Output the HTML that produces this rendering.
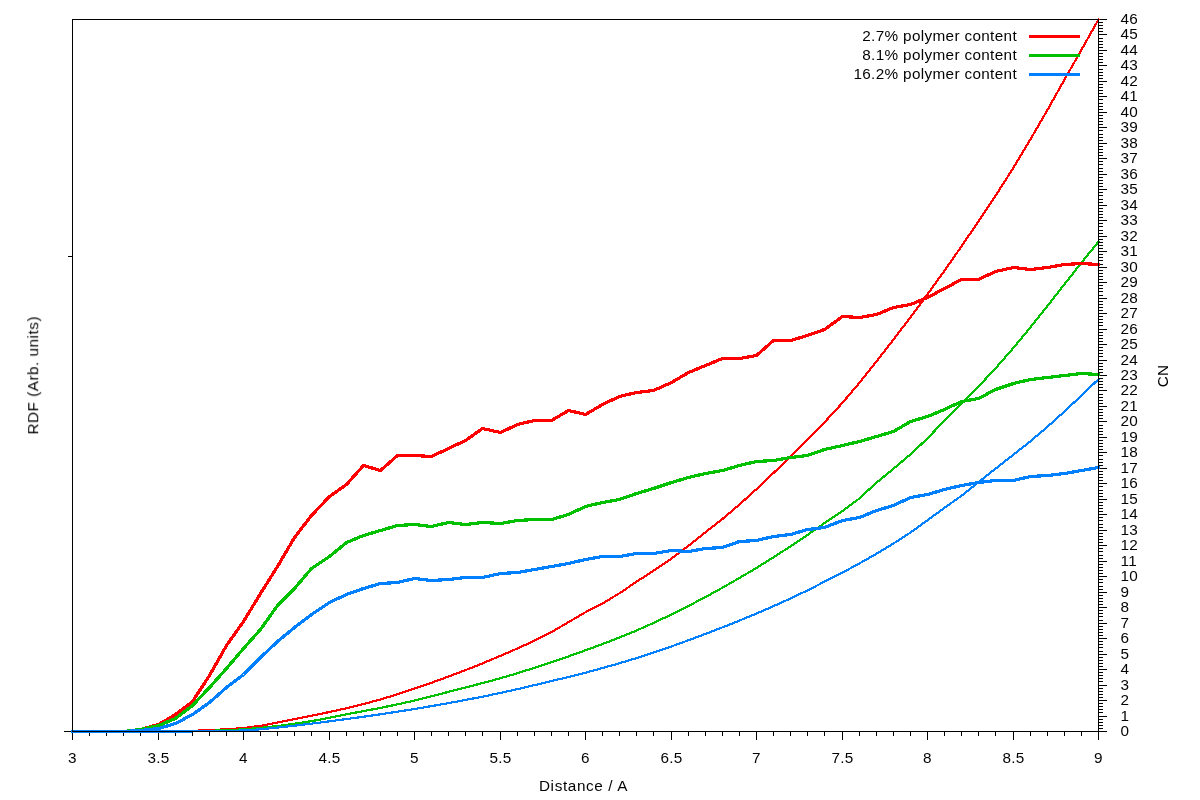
<!DOCTYPE html>
<html><head><meta charset="utf-8"><title>RDF / CN</title>
<style>
html,body{margin:0;padding:0;background:#fff;}
body{width:1200px;height:800px;overflow:hidden;font-family:"Liberation Sans",sans-serif;}
svg{display:block;}
text{font-family:"Liberation Sans",sans-serif;font-size:15.3px;fill:#000;letter-spacing:0.3px;}
</style></head><body>
<svg width="1200" height="800" viewBox="0 0 1200 800">
<rect width="1200" height="800" fill="#fff"/>

<g fill="#000" shape-rendering="crispEdges">
<rect x="72" y="731" width="1" height="9"/>
<rect x="89" y="731" width="1" height="5"/>
<rect x="106" y="731" width="1" height="5"/>
<rect x="123" y="731" width="1" height="5"/>
<rect x="140" y="731" width="1" height="5"/>
<rect x="158" y="731" width="1" height="9"/>
<rect x="175" y="731" width="1" height="5"/>
<rect x="192" y="731" width="1" height="5"/>
<rect x="209" y="731" width="1" height="5"/>
<rect x="226" y="731" width="1" height="5"/>
<rect x="243" y="731" width="1" height="9"/>
<rect x="260" y="731" width="1" height="5"/>
<rect x="277" y="731" width="1" height="5"/>
<rect x="294" y="731" width="1" height="5"/>
<rect x="311" y="731" width="1" height="5"/>
<rect x="329" y="731" width="1" height="9"/>
<rect x="346" y="731" width="1" height="5"/>
<rect x="363" y="731" width="1" height="5"/>
<rect x="380" y="731" width="1" height="5"/>
<rect x="397" y="731" width="1" height="5"/>
<rect x="414" y="731" width="1" height="9"/>
<rect x="431" y="731" width="1" height="5"/>
<rect x="448" y="731" width="1" height="5"/>
<rect x="465" y="731" width="1" height="5"/>
<rect x="482" y="731" width="1" height="5"/>
<rect x="500" y="731" width="1" height="9"/>
<rect x="517" y="731" width="1" height="5"/>
<rect x="534" y="731" width="1" height="5"/>
<rect x="551" y="731" width="1" height="5"/>
<rect x="568" y="731" width="1" height="5"/>
<rect x="585" y="731" width="1" height="9"/>
<rect x="602" y="731" width="1" height="5"/>
<rect x="619" y="731" width="1" height="5"/>
<rect x="636" y="731" width="1" height="5"/>
<rect x="653" y="731" width="1" height="5"/>
<rect x="671" y="731" width="1" height="9"/>
<rect x="688" y="731" width="1" height="5"/>
<rect x="705" y="731" width="1" height="5"/>
<rect x="722" y="731" width="1" height="5"/>
<rect x="739" y="731" width="1" height="5"/>
<rect x="756" y="731" width="1" height="9"/>
<rect x="773" y="731" width="1" height="5"/>
<rect x="790" y="731" width="1" height="5"/>
<rect x="807" y="731" width="1" height="5"/>
<rect x="824" y="731" width="1" height="5"/>
<rect x="842" y="731" width="1" height="9"/>
<rect x="859" y="731" width="1" height="5"/>
<rect x="876" y="731" width="1" height="5"/>
<rect x="893" y="731" width="1" height="5"/>
<rect x="910" y="731" width="1" height="5"/>
<rect x="927" y="731" width="1" height="9"/>
<rect x="944" y="731" width="1" height="5"/>
<rect x="961" y="731" width="1" height="5"/>
<rect x="978" y="731" width="1" height="5"/>
<rect x="995" y="731" width="1" height="5"/>
<rect x="1013" y="731" width="1" height="9"/>
<rect x="1030" y="731" width="1" height="5"/>
<rect x="1047" y="731" width="1" height="5"/>
<rect x="1064" y="731" width="1" height="5"/>
<rect x="1081" y="731" width="1" height="5"/>
<rect x="1098" y="731" width="1" height="9"/>
<rect x="64" y="731" width="9" height="1"/>
<rect x="68" y="256" width="5" height="1"/>
<rect x="1098" y="731" width="9" height="1"/>
<rect x="1098" y="728" width="5" height="1"/>
<rect x="1098" y="725" width="5" height="1"/>
<rect x="1098" y="722" width="5" height="1"/>
<rect x="1098" y="719" width="5" height="1"/>
<rect x="1098" y="716" width="9" height="1"/>
<rect x="1098" y="712" width="5" height="1"/>
<rect x="1098" y="709" width="5" height="1"/>
<rect x="1098" y="706" width="5" height="1"/>
<rect x="1098" y="703" width="5" height="1"/>
<rect x="1098" y="700" width="9" height="1"/>
<rect x="1098" y="697" width="5" height="1"/>
<rect x="1098" y="694" width="5" height="1"/>
<rect x="1098" y="691" width="5" height="1"/>
<rect x="1098" y="688" width="5" height="1"/>
<rect x="1098" y="685" width="9" height="1"/>
<rect x="1098" y="681" width="5" height="1"/>
<rect x="1098" y="678" width="5" height="1"/>
<rect x="1098" y="675" width="5" height="1"/>
<rect x="1098" y="672" width="5" height="1"/>
<rect x="1098" y="669" width="9" height="1"/>
<rect x="1098" y="666" width="5" height="1"/>
<rect x="1098" y="663" width="5" height="1"/>
<rect x="1098" y="660" width="5" height="1"/>
<rect x="1098" y="657" width="5" height="1"/>
<rect x="1098" y="654" width="9" height="1"/>
<rect x="1098" y="651" width="5" height="1"/>
<rect x="1098" y="647" width="5" height="1"/>
<rect x="1098" y="644" width="5" height="1"/>
<rect x="1098" y="641" width="5" height="1"/>
<rect x="1098" y="638" width="9" height="1"/>
<rect x="1098" y="635" width="5" height="1"/>
<rect x="1098" y="632" width="5" height="1"/>
<rect x="1098" y="629" width="5" height="1"/>
<rect x="1098" y="626" width="5" height="1"/>
<rect x="1098" y="623" width="9" height="1"/>
<rect x="1098" y="620" width="5" height="1"/>
<rect x="1098" y="616" width="5" height="1"/>
<rect x="1098" y="613" width="5" height="1"/>
<rect x="1098" y="610" width="5" height="1"/>
<rect x="1098" y="607" width="9" height="1"/>
<rect x="1098" y="604" width="5" height="1"/>
<rect x="1098" y="601" width="5" height="1"/>
<rect x="1098" y="598" width="5" height="1"/>
<rect x="1098" y="595" width="5" height="1"/>
<rect x="1098" y="592" width="9" height="1"/>
<rect x="1098" y="589" width="5" height="1"/>
<rect x="1098" y="586" width="5" height="1"/>
<rect x="1098" y="582" width="5" height="1"/>
<rect x="1098" y="579" width="5" height="1"/>
<rect x="1098" y="576" width="9" height="1"/>
<rect x="1098" y="573" width="5" height="1"/>
<rect x="1098" y="570" width="5" height="1"/>
<rect x="1098" y="567" width="5" height="1"/>
<rect x="1098" y="564" width="5" height="1"/>
<rect x="1098" y="561" width="9" height="1"/>
<rect x="1098" y="558" width="5" height="1"/>
<rect x="1098" y="555" width="5" height="1"/>
<rect x="1098" y="551" width="5" height="1"/>
<rect x="1098" y="548" width="5" height="1"/>
<rect x="1098" y="545" width="9" height="1"/>
<rect x="1098" y="542" width="5" height="1"/>
<rect x="1098" y="539" width="5" height="1"/>
<rect x="1098" y="536" width="5" height="1"/>
<rect x="1098" y="533" width="5" height="1"/>
<rect x="1098" y="530" width="9" height="1"/>
<rect x="1098" y="527" width="5" height="1"/>
<rect x="1098" y="524" width="5" height="1"/>
<rect x="1098" y="520" width="5" height="1"/>
<rect x="1098" y="517" width="5" height="1"/>
<rect x="1098" y="514" width="9" height="1"/>
<rect x="1098" y="511" width="5" height="1"/>
<rect x="1098" y="508" width="5" height="1"/>
<rect x="1098" y="505" width="5" height="1"/>
<rect x="1098" y="502" width="5" height="1"/>
<rect x="1098" y="499" width="9" height="1"/>
<rect x="1098" y="496" width="5" height="1"/>
<rect x="1098" y="493" width="5" height="1"/>
<rect x="1098" y="490" width="5" height="1"/>
<rect x="1098" y="486" width="5" height="1"/>
<rect x="1098" y="483" width="9" height="1"/>
<rect x="1098" y="480" width="5" height="1"/>
<rect x="1098" y="477" width="5" height="1"/>
<rect x="1098" y="474" width="5" height="1"/>
<rect x="1098" y="471" width="5" height="1"/>
<rect x="1098" y="468" width="9" height="1"/>
<rect x="1098" y="465" width="5" height="1"/>
<rect x="1098" y="462" width="5" height="1"/>
<rect x="1098" y="459" width="5" height="1"/>
<rect x="1098" y="455" width="5" height="1"/>
<rect x="1098" y="452" width="9" height="1"/>
<rect x="1098" y="449" width="5" height="1"/>
<rect x="1098" y="446" width="5" height="1"/>
<rect x="1098" y="443" width="5" height="1"/>
<rect x="1098" y="440" width="5" height="1"/>
<rect x="1098" y="437" width="9" height="1"/>
<rect x="1098" y="434" width="5" height="1"/>
<rect x="1098" y="431" width="5" height="1"/>
<rect x="1098" y="428" width="5" height="1"/>
<rect x="1098" y="425" width="5" height="1"/>
<rect x="1098" y="421" width="9" height="1"/>
<rect x="1098" y="418" width="5" height="1"/>
<rect x="1098" y="415" width="5" height="1"/>
<rect x="1098" y="412" width="5" height="1"/>
<rect x="1098" y="409" width="5" height="1"/>
<rect x="1098" y="406" width="9" height="1"/>
<rect x="1098" y="403" width="5" height="1"/>
<rect x="1098" y="400" width="5" height="1"/>
<rect x="1098" y="397" width="5" height="1"/>
<rect x="1098" y="394" width="5" height="1"/>
<rect x="1098" y="390" width="9" height="1"/>
<rect x="1098" y="387" width="5" height="1"/>
<rect x="1098" y="384" width="5" height="1"/>
<rect x="1098" y="381" width="5" height="1"/>
<rect x="1098" y="378" width="5" height="1"/>
<rect x="1098" y="375" width="9" height="1"/>
<rect x="1098" y="372" width="5" height="1"/>
<rect x="1098" y="369" width="5" height="1"/>
<rect x="1098" y="366" width="5" height="1"/>
<rect x="1098" y="363" width="5" height="1"/>
<rect x="1098" y="360" width="9" height="1"/>
<rect x="1098" y="356" width="5" height="1"/>
<rect x="1098" y="353" width="5" height="1"/>
<rect x="1098" y="350" width="5" height="1"/>
<rect x="1098" y="347" width="5" height="1"/>
<rect x="1098" y="344" width="9" height="1"/>
<rect x="1098" y="341" width="5" height="1"/>
<rect x="1098" y="338" width="5" height="1"/>
<rect x="1098" y="335" width="5" height="1"/>
<rect x="1098" y="332" width="5" height="1"/>
<rect x="1098" y="329" width="9" height="1"/>
<rect x="1098" y="325" width="5" height="1"/>
<rect x="1098" y="322" width="5" height="1"/>
<rect x="1098" y="319" width="5" height="1"/>
<rect x="1098" y="316" width="5" height="1"/>
<rect x="1098" y="313" width="9" height="1"/>
<rect x="1098" y="310" width="5" height="1"/>
<rect x="1098" y="307" width="5" height="1"/>
<rect x="1098" y="304" width="5" height="1"/>
<rect x="1098" y="301" width="5" height="1"/>
<rect x="1098" y="298" width="9" height="1"/>
<rect x="1098" y="295" width="5" height="1"/>
<rect x="1098" y="291" width="5" height="1"/>
<rect x="1098" y="288" width="5" height="1"/>
<rect x="1098" y="285" width="5" height="1"/>
<rect x="1098" y="282" width="9" height="1"/>
<rect x="1098" y="279" width="5" height="1"/>
<rect x="1098" y="276" width="5" height="1"/>
<rect x="1098" y="273" width="5" height="1"/>
<rect x="1098" y="270" width="5" height="1"/>
<rect x="1098" y="267" width="9" height="1"/>
<rect x="1098" y="264" width="5" height="1"/>
<rect x="1098" y="260" width="5" height="1"/>
<rect x="1098" y="257" width="5" height="1"/>
<rect x="1098" y="254" width="5" height="1"/>
<rect x="1098" y="251" width="9" height="1"/>
<rect x="1098" y="248" width="5" height="1"/>
<rect x="1098" y="245" width="5" height="1"/>
<rect x="1098" y="242" width="5" height="1"/>
<rect x="1098" y="239" width="5" height="1"/>
<rect x="1098" y="236" width="9" height="1"/>
<rect x="1098" y="233" width="5" height="1"/>
<rect x="1098" y="230" width="5" height="1"/>
<rect x="1098" y="226" width="5" height="1"/>
<rect x="1098" y="223" width="5" height="1"/>
<rect x="1098" y="220" width="9" height="1"/>
<rect x="1098" y="217" width="5" height="1"/>
<rect x="1098" y="214" width="5" height="1"/>
<rect x="1098" y="211" width="5" height="1"/>
<rect x="1098" y="208" width="5" height="1"/>
<rect x="1098" y="205" width="9" height="1"/>
<rect x="1098" y="202" width="5" height="1"/>
<rect x="1098" y="199" width="5" height="1"/>
<rect x="1098" y="195" width="5" height="1"/>
<rect x="1098" y="192" width="5" height="1"/>
<rect x="1098" y="189" width="9" height="1"/>
<rect x="1098" y="186" width="5" height="1"/>
<rect x="1098" y="183" width="5" height="1"/>
<rect x="1098" y="180" width="5" height="1"/>
<rect x="1098" y="177" width="5" height="1"/>
<rect x="1098" y="174" width="9" height="1"/>
<rect x="1098" y="171" width="5" height="1"/>
<rect x="1098" y="168" width="5" height="1"/>
<rect x="1098" y="164" width="5" height="1"/>
<rect x="1098" y="161" width="5" height="1"/>
<rect x="1098" y="158" width="9" height="1"/>
<rect x="1098" y="155" width="5" height="1"/>
<rect x="1098" y="152" width="5" height="1"/>
<rect x="1098" y="149" width="5" height="1"/>
<rect x="1098" y="146" width="5" height="1"/>
<rect x="1098" y="143" width="9" height="1"/>
<rect x="1098" y="140" width="5" height="1"/>
<rect x="1098" y="137" width="5" height="1"/>
<rect x="1098" y="134" width="5" height="1"/>
<rect x="1098" y="130" width="5" height="1"/>
<rect x="1098" y="127" width="9" height="1"/>
<rect x="1098" y="124" width="5" height="1"/>
<rect x="1098" y="121" width="5" height="1"/>
<rect x="1098" y="118" width="5" height="1"/>
<rect x="1098" y="115" width="5" height="1"/>
<rect x="1098" y="112" width="9" height="1"/>
<rect x="1098" y="109" width="5" height="1"/>
<rect x="1098" y="106" width="5" height="1"/>
<rect x="1098" y="103" width="5" height="1"/>
<rect x="1098" y="99" width="5" height="1"/>
<rect x="1098" y="96" width="9" height="1"/>
<rect x="1098" y="93" width="5" height="1"/>
<rect x="1098" y="90" width="5" height="1"/>
<rect x="1098" y="87" width="5" height="1"/>
<rect x="1098" y="84" width="5" height="1"/>
<rect x="1098" y="81" width="9" height="1"/>
<rect x="1098" y="78" width="5" height="1"/>
<rect x="1098" y="75" width="5" height="1"/>
<rect x="1098" y="72" width="5" height="1"/>
<rect x="1098" y="69" width="5" height="1"/>
<rect x="1098" y="65" width="9" height="1"/>
<rect x="1098" y="62" width="5" height="1"/>
<rect x="1098" y="59" width="5" height="1"/>
<rect x="1098" y="56" width="5" height="1"/>
<rect x="1098" y="53" width="5" height="1"/>
<rect x="1098" y="50" width="9" height="1"/>
<rect x="1098" y="47" width="5" height="1"/>
<rect x="1098" y="44" width="5" height="1"/>
<rect x="1098" y="41" width="5" height="1"/>
<rect x="1098" y="38" width="5" height="1"/>
<rect x="1098" y="34" width="9" height="1"/>
<rect x="1098" y="31" width="5" height="1"/>
<rect x="1098" y="28" width="5" height="1"/>
<rect x="1098" y="25" width="5" height="1"/>
<rect x="1098" y="22" width="5" height="1"/>
<rect x="1098" y="19" width="9" height="1"/>
</g>
<g fill="none" stroke-linejoin="bevel" stroke-linecap="butt" shape-rendering="crispEdges">
<polyline stroke="#ff0000" stroke-width="2.2" points="72.5,731.5 89.6,731.5 106.7,731.5 123.8,731.5 140.9,731.5 158.0,731.5 175.1,731.2 192.2,730.8 209.3,730.2 226.4,729.3 243.5,728.1 260.6,725.8 277.7,722.5 294.8,719.0 311.9,715.7 329.0,712.1 346.1,708.3 363.2,704.1 380.3,699.5 397.4,694.3 414.5,688.6 431.6,682.7 448.7,676.5 465.8,670.0 482.9,663.2 500.0,656.0 517.1,648.6 534.2,640.8 551.3,632.2 568.4,622.2 585.5,612.2 602.6,603.4 619.7,593.1 636.8,581.6 653.9,570.4 671.0,558.9 688.1,546.2 705.2,532.4 722.3,519.1 739.4,504.6 756.5,489.1 773.6,472.9 790.7,456.4 807.8,439.5 824.9,421.9 842.0,403.3 859.1,383.2 876.2,361.8 893.3,339.7 910.4,317.4 927.5,294.3 944.6,270.5 961.7,246.0 978.8,220.9 995.9,195.2 1013.0,168.4 1030.1,139.9 1047.2,110.4 1064.3,79.9 1081.4,49.9 1098.5,19.5 1099.0,18.6"/>
<polyline stroke="#00c000" stroke-width="2.2" points="72.5,731.5 89.6,731.5 106.7,731.5 123.8,731.5 140.9,731.5 158.0,731.5 175.1,731.5 192.2,731.2 209.3,730.8 226.4,730.2 243.5,729.3 260.6,727.9 277.7,726.0 294.8,723.7 311.9,721.1 329.0,717.8 346.1,714.3 363.2,711.2 380.3,707.9 397.4,704.4 414.5,700.6 431.6,696.3 448.7,691.8 465.8,687.4 482.9,683.0 500.0,678.4 517.1,673.3 534.2,667.9 551.3,662.2 568.4,656.4 585.5,650.3 602.6,644.0 619.7,637.4 636.8,630.4 653.9,622.8 671.0,614.7 688.1,606.1 705.2,597.2 722.3,587.8 739.4,578.0 756.5,567.9 773.6,557.2 790.7,546.2 807.8,534.7 824.9,522.8 842.0,511.3 859.1,498.7 876.2,482.9 893.3,468.9 910.4,454.4 927.5,438.4 944.6,420.3 961.7,403.7 978.8,386.2 995.9,367.9 1013.0,348.4 1030.1,327.7 1047.2,306.4 1064.3,284.4 1081.4,262.8 1098.5,241.6 1099.0,241.0"/>
<polyline stroke="#0080ff" stroke-width="2.2" points="72.5,731.5 89.6,731.5 106.7,731.5 123.8,731.5 140.9,731.5 158.0,731.5 175.1,731.5 192.2,731.4 209.3,731.2 226.4,730.9 243.5,730.5 260.6,729.3 277.7,727.5 294.8,725.6 311.9,723.6 329.0,721.4 346.1,719.1 363.2,716.8 380.3,714.3 397.4,711.7 414.5,709.0 431.6,706.1 448.7,703.1 465.8,699.9 482.9,696.6 500.0,693.0 517.1,689.2 534.2,685.2 551.3,681.1 568.4,677.0 585.5,672.7 602.6,668.0 619.7,663.2 636.8,658.0 653.9,652.5 671.0,646.6 688.1,640.4 705.2,634.0 722.3,627.4 739.4,620.6 756.5,613.5 773.6,606.1 790.7,598.4 807.8,590.2 824.9,581.5 842.0,572.8 859.1,563.6 876.2,553.9 893.3,543.6 910.4,532.6 927.5,520.2 944.6,507.8 961.7,495.6 978.8,481.9 995.9,468.4 1013.0,455.0 1030.1,441.5 1047.2,427.0 1064.3,411.6 1081.4,395.6 1098.5,379.2 1099.0,378.7"/>
<polyline stroke="#ff0000" stroke-width="3.2" points="71.0,731.5 72.5,731.5 89.5,731.5 106.5,731.5 123.5,731.5 140.5,729.5 158.5,724.5 175.5,714.5 192.5,701.5 209.5,675.5 226.5,645.5 243.5,621.5 260.5,593.5 277.5,566.5 294.5,537.5 311.5,515.5 329.5,496.5 346.5,484.5 363.5,465.5 380.5,470.5 397.5,455.5 414.5,455.5 431.5,456.5 448.5,448.5 465.5,440.5 482.5,428.5 500.5,432.5 517.5,424.5 534.5,420.5 551.5,420.5 568.5,410.5 585.5,414.5 602.5,404.5 619.5,396.5 636.5,392.5 653.5,390.5 671.5,382.5 688.5,372.5 705.5,365.5 722.5,358.5 739.5,358.5 756.5,355.5 773.5,340.5 790.5,340.5 807.5,335.5 824.5,329.5 842.5,316.5 859.5,317.5 876.5,314.5 893.5,307.5 910.5,304.5 927.5,297.5 944.5,288.5 961.5,279.5 978.5,279.5 995.5,271.5 1013.5,267.5 1030.5,269.5 1047.5,267.5 1064.5,264.5 1081.5,263.5 1098.5,264.5 1100.0,264.6"/>
<rect x="1029" y="35" width="51" height="3" fill="#ff0000"/>
<polyline stroke="#00c000" stroke-width="3.2" points="71.0,731.5 72.5,731.5 89.5,731.5 106.5,731.5 123.5,731.5 140.5,729.5 158.5,725.5 175.5,718.5 192.5,705.5 209.5,687.5 226.5,668.5 243.5,648.5 260.5,629.5 277.5,605.5 294.5,588.5 311.5,568.5 329.5,556.5 346.5,542.5 363.5,535.5 380.5,530.5 397.5,525.5 414.5,524.5 431.5,526.5 448.5,522.5 465.5,524.5 482.5,522.5 500.5,523.5 517.5,520.5 534.5,519.5 551.5,519.5 568.5,514.5 585.5,506.5 602.5,502.5 619.5,499.5 636.5,493.5 653.5,488.5 671.5,482.5 688.5,477.5 705.5,473.5 722.5,470.5 739.5,465.5 756.5,461.5 773.5,460.5 790.5,457.5 807.5,455.5 824.5,449.5 842.5,445.5 859.5,441.5 876.5,436.5 893.5,431.5 910.5,421.5 927.5,416.5 944.5,409.5 961.5,401.5 978.5,398.5 995.5,389.5 1013.5,383.5 1030.5,379.5 1047.5,377.5 1064.5,375.5 1081.5,373.5 1098.5,374.5 1100.0,374.7"/>
<rect x="1029" y="54" width="51" height="3" fill="#00c000"/>
<polyline stroke="#0080ff" stroke-width="3.2" points="71.0,731.5 72.5,731.5 89.5,731.5 106.5,731.5 123.5,731.5 140.5,730.5 158.5,728.5 175.5,723.5 192.5,714.5 209.5,702.5 226.5,687.5 243.5,674.5 260.5,657.5 277.5,641.5 294.5,627.5 311.5,614.5 329.5,602.5 346.5,594.5 363.5,588.5 380.5,583.5 397.5,582.5 414.5,578.5 431.5,580.5 448.5,579.5 465.5,577.5 482.5,577.5 500.5,573.5 517.5,572.5 534.5,569.5 551.5,566.5 568.5,563.5 585.5,559.5 602.5,556.5 619.5,556.5 636.5,553.5 653.5,553.5 671.5,550.5 688.5,551.5 705.5,548.5 722.5,547.5 739.5,541.5 756.5,540.5 773.5,536.5 790.5,534.5 807.5,529.5 824.5,527.5 842.5,520.5 859.5,517.5 876.5,510.5 893.5,505.5 910.5,497.5 927.5,494.5 944.5,489.5 961.5,485.5 978.5,482.5 995.5,480.5 1013.5,480.5 1030.5,476.5 1047.5,475.5 1064.5,473.5 1081.5,470.5 1098.5,467.5 1100.0,467.6"/>
<rect x="1029" y="73" width="51" height="3" fill="#0080ff"/>
</g>
<g fill="#000" shape-rendering="crispEdges"><rect x="72" y="19" width="1027" height="1"/><rect x="72" y="731" width="1027" height="1"/><rect x="72" y="19" width="1" height="713"/><rect x="1098" y="19" width="1" height="713"/></g>
<g opacity="0.99">
<text x="72.5" y="763.2" text-anchor="middle">3</text>
<text x="158.5" y="763.2" text-anchor="middle">3.5</text>
<text x="243.5" y="763.2" text-anchor="middle">4</text>
<text x="329.5" y="763.2" text-anchor="middle">4.5</text>
<text x="414.5" y="763.2" text-anchor="middle">5</text>
<text x="500.5" y="763.2" text-anchor="middle">5.5</text>
<text x="585.5" y="763.2" text-anchor="middle">6</text>
<text x="671.5" y="763.2" text-anchor="middle">6.5</text>
<text x="756.5" y="763.2" text-anchor="middle">7</text>
<text x="842.5" y="763.2" text-anchor="middle">7.5</text>
<text x="927.5" y="763.2" text-anchor="middle">8</text>
<text x="1013.5" y="763.2" text-anchor="middle">8.5</text>
<text x="1098.5" y="763.2" text-anchor="middle">9</text>
<text x="1120.5" y="736.1">0</text>
<text x="1120.5" y="721.1">1</text>
<text x="1120.5" y="705.1">2</text>
<text x="1120.5" y="690.1">3</text>
<text x="1120.5" y="674.1">4</text>
<text x="1120.5" y="659.1">5</text>
<text x="1120.5" y="643.1">6</text>
<text x="1120.5" y="628.1">7</text>
<text x="1120.5" y="612.1">8</text>
<text x="1120.5" y="597.1">9</text>
<text x="1120.5" y="581.1">10</text>
<text x="1120.5" y="566.1">11</text>
<text x="1120.5" y="550.1">12</text>
<text x="1120.5" y="535.1">13</text>
<text x="1120.5" y="519.1">14</text>
<text x="1120.5" y="504.1">15</text>
<text x="1120.5" y="488.1">16</text>
<text x="1120.5" y="473.1">17</text>
<text x="1120.5" y="457.1">18</text>
<text x="1120.5" y="442.1">19</text>
<text x="1120.5" y="426.1">20</text>
<text x="1120.5" y="411.1">21</text>
<text x="1120.5" y="395.1">22</text>
<text x="1120.5" y="380.1">23</text>
<text x="1120.5" y="365.1">24</text>
<text x="1120.5" y="349.1">25</text>
<text x="1120.5" y="334.1">26</text>
<text x="1120.5" y="318.1">27</text>
<text x="1120.5" y="303.1">28</text>
<text x="1120.5" y="287.1">29</text>
<text x="1120.5" y="272.1">30</text>
<text x="1120.5" y="256.1">31</text>
<text x="1120.5" y="241.1">32</text>
<text x="1120.5" y="225.1">33</text>
<text x="1120.5" y="210.1">34</text>
<text x="1120.5" y="194.1">35</text>
<text x="1120.5" y="179.1">36</text>
<text x="1120.5" y="163.1">37</text>
<text x="1120.5" y="148.1">38</text>
<text x="1120.5" y="132.1">39</text>
<text x="1120.5" y="117.1">40</text>
<text x="1120.5" y="101.1">41</text>
<text x="1120.5" y="86.1">42</text>
<text x="1120.5" y="70.1">43</text>
<text x="1120.5" y="55.1">44</text>
<text x="1120.5" y="39.1">45</text>
<text x="1120.5" y="24.1">46</text>
<text x="1017" y="41.1" text-anchor="end" style="letter-spacing:0.34px">2.7% polymer content</text>
<text x="1017" y="60.1" text-anchor="end" style="letter-spacing:0.34px">8.1% polymer content</text>
<text x="1017" y="79.1" text-anchor="end" style="letter-spacing:0.34px">16.2% polymer content</text>
<text x="583.5" y="791.2" text-anchor="middle" style="letter-spacing:0.62px">Distance / A</text>
<text transform="translate(38.2,375.3) rotate(-90)" text-anchor="middle" style="letter-spacing:0.5px">RDF (Arb. units)</text>
<text transform="translate(1168,376) rotate(-90)" text-anchor="middle">CN</text>
</g>
</svg></body></html>
